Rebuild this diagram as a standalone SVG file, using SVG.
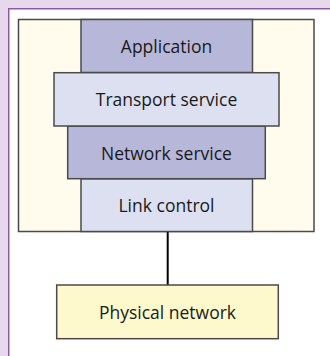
<svg xmlns="http://www.w3.org/2000/svg" width="330" height="356" viewBox="0 0 330 356">
  <style>
    .box { stroke: #4a4a4a; stroke-width: 1.5; }
    .dark { fill: #b7b7d9; }
    .light { fill: #dce0f1; }
    .label { font-family: "Open Sans", Lato, sans-serif; font-size: 17.5px; fill: #1a1a1a; text-anchor: middle; dominant-baseline: central; }
  </style>
  <!-- page background and panel -->
  <rect x="0" y="0" width="330" height="356" fill="#e6d9eb"/>
  <rect x="8.75" y="8.75" width="340" height="360" fill="#ffffff" stroke="#8c5aa3" stroke-width="1.5"/>

  <!-- host enclosure -->
  <g id="host">
    <rect class="box" x="18.5" y="19.5" width="295.5" height="212" fill="#fffcee"/>
  </g>

  <!-- connectors -->
  <g id="connectors">
    <line x1="167.7" y1="231.5" x2="167.7" y2="285" stroke="#000000" stroke-width="2"/>
  </g>

  <g id="application">
    <rect class="box dark" x="81" y="19.5" width="171.5" height="53"/>
    <text class="label" x="166.5" y="46">Application</text>
  </g>
  <g id="link-control">
    <rect class="box light" x="81" y="178.7" width="171.5" height="52.8"/>
    <text class="label" x="166.5" y="204.5">Link control</text>
  </g>
  <g id="network-service">
    <rect class="box dark" x="67.7" y="126" width="197.6" height="52.7"/>
    <text class="label" x="166.5" y="152.5">Network service</text>
  </g>
  <g id="transport-service">
    <rect class="box light" x="54" y="72.7" width="225" height="53.3"/>
    <text class="label" x="166.5" y="99">Transport service</text>
  </g>
  <g id="physical-network">
    <rect class="box" x="56.7" y="285" width="221.6" height="53.7" fill="#fdf9cc"/>
    <text class="label" x="167.5" y="311.5">Physical network</text>
  </g>
</svg>
